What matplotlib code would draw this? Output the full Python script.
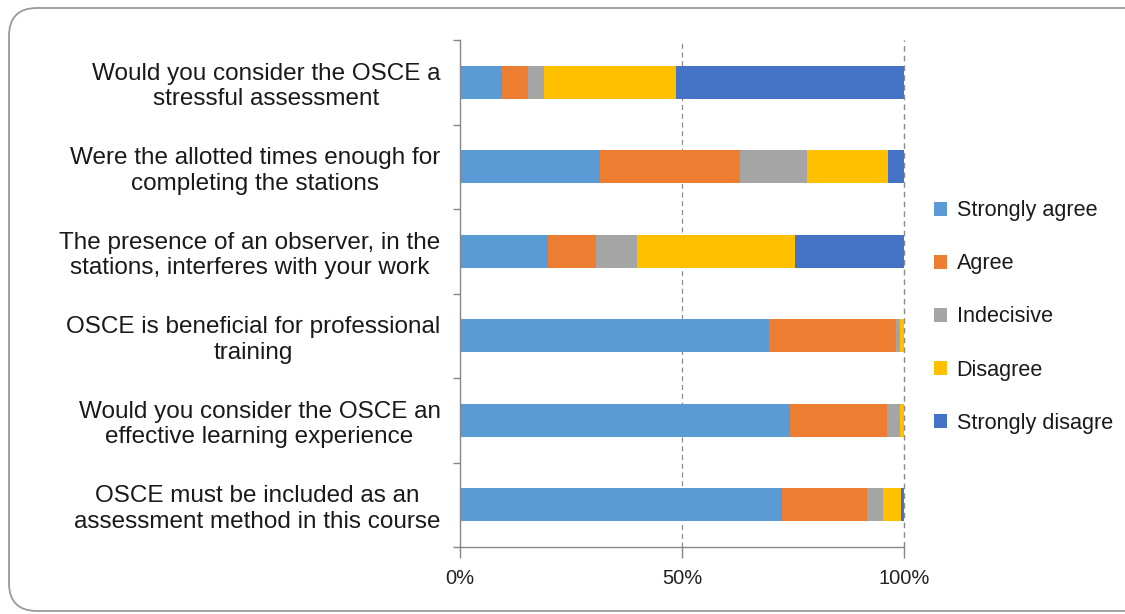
import matplotlib
matplotlib.use("Agg")
import matplotlib.pyplot as plt
from matplotlib.patches import FancyBboxPatch
from matplotlib.transforms import IdentityTransform
import numpy as np

plt.rcParams['font.family'] = ['Liberation Sans', 'DejaVu Sans']

categories = [
    "Would you consider the OSCE a\nstressful assessment",
    "Were the allotted times enough for\ncompleting the stations",
    "The presence of an observer, in the\nstations, interferes with your work",
    "OSCE is beneficial for professional\ntraining",
    "Would you consider the OSCE an\neffective learning experience",
    "OSCE must be included as an\nassessment method in this course",
]
series_names = ["Strongly agree", "Agree", "Indecisive", "Disagree", "Strongly disagre"]
strongly_agree = [9.4, 31.4, 19.9, 69.5, 74.3, 72.5]
agree = [5.8, 31.6, 10.6, 28.6, 21.7, 19.0]
indecisive = [3.6, 15.0, 9.3, 0.9, 3.0, 3.8]
disagree = [29.8, 18.3, 35.5, 1.0, 1.0, 3.9]
strongly_disagree = [51.4, 3.7, 24.7, 0.0, 0.0, 0.8]
colors = ["#5B9BD5", "#ED7D31", "#A5A5A5", "#FFC000", "#4472C4"]
xtick_vals = [0, 0.5, 1.0]
xtick_labels = ["0%", "50%", "100%"]

W, H, DPI = 1125, 614, 100
fig = plt.figure(figsize=(W / DPI, H / DPI), dpi=DPI)
fig.patch.set_facecolor("white")

# rounded border (display pixel coordinates, origin bottom-left)
box = FancyBboxPatch((9, 3), 1160, H - 8 - 3,
                     boxstyle="round,pad=0,rounding_size=28",
                     transform=IdentityTransform(), facecolor="none",
                     edgecolor="#9a9a9a", linewidth=1.3, clip_on=False)
fig.patches.append(box)

ax = fig.add_axes([460 / W, 1 - 547 / H, (904.3 - 460) / W, (547 - 40) / H])

data = np.array([strongly_agree, agree, indecisive, disagree, strongly_disagree], dtype=float)
totals = data.sum(axis=0)
frac = data / totals
y = np.arange(len(categories))
left = np.zeros(len(categories))
for i, name in enumerate(series_names):
    ax.barh(y, frac[i], left=left, height=0.39, color=colors[i], label=name, zorder=2)
    left += frac[i]

ax.set_ylim(len(categories) - 0.5, -0.5)
ax.set_xlim(0, 1)

ax.set_yticks(np.arange(len(categories) + 1) - 0.5, minor=True)
ax.set_yticks(y)
ax.set_yticklabels(categories, fontsize=17.5, color="#1a1a1a",
                   multialignment="center", linespacing=1.2)
ax.tick_params(axis="y", which="major", length=0, pad=14)
ax.tick_params(axis="y", which="minor", length=5, color="#868686", width=1)

ax.set_xticks(xtick_vals)
ax.set_xticklabels(xtick_labels, fontsize=14.5, color="#222222")
ax.tick_params(axis="x", length=8, color="#868686", width=1, pad=8)

for s in ["top", "right"]:
    ax.spines[s].set_visible(False)
for s in ["left", "bottom"]:
    ax.spines[s].set_color("#868686")
    ax.spines[s].set_linewidth(1)

ax.axvline(0.5, color="#8a8a8a", linestyle=(0, (4, 3)), linewidth=0.9, zorder=1)
ax.axvline(1.0, color="#8a8a8a", linestyle=(0, (4, 3)), linewidth=1.0, zorder=3,
           clip_on=False)

leg = fig.legend(loc="center left", bbox_to_anchor=(934 / W, 1 - 317 / H),
                 frameon=False, fontsize=15.6, handlelength=0.6, handleheight=0.6,
                 handletextpad=0.45, labelspacing=1.48, borderaxespad=0, borderpad=0)
for t in leg.get_texts():
    t.set_color("#1a1a1a")

fig.savefig("out.png", dpi=DPI)
